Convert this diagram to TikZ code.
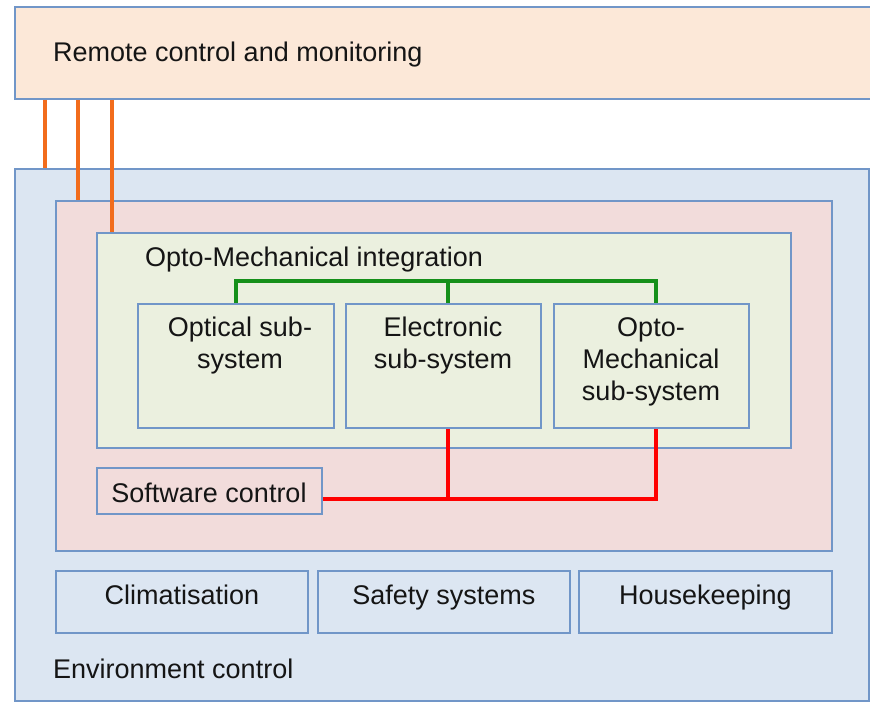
\documentclass[tikz,border=0pt]{standalone}
\usepackage{fontspec}
\setmainfont{Liberation Sans}
\usetikzlibrary{shadows}
\definecolor{bordc}{HTML}{7196C8}
\definecolor{peach}{HTML}{FCE8D8}
\definecolor{envblue}{HTML}{DCE6F2}
\definecolor{pinkc}{HTML}{F2DCDB}
\definecolor{greenc}{HTML}{EBF0DF}
\definecolor{orangel}{HTML}{F26C1C}
\definecolor{greenl}{HTML}{15901A}
\definecolor{redl}{HTML}{FF0000}
\definecolor{txtc}{HTML}{151515}
\begin{document}
\begin{tikzpicture}[x=1pt,y=-1pt,
  box/.style={draw=bordc, line width=1.9pt, inner sep=0pt, anchor=north west,
    drop shadow={shadow xshift=1pt, shadow yshift=-1.5pt, opacity=0.25, fill=black!60}},
  lbl/.style={inner sep=0pt, text=txtc, font=\fontsize{27}{32}\selectfont},
  mlbl/.style={lbl, align=center, anchor=north},
  oline/.style={draw=orangel, line width=3.4pt},
  gline/.style={draw=greenl, line width=3.2pt},
  rline/.style={draw=redl, line width=3.2pt}]
\useasboundingbox (0,0) rectangle (870,702);
% containers
\node[box, fill=peach, minimum width=856pt, minimum height=92pt] (remote) at (14,6) {};
\node[box, fill=envblue, minimum width=854pt, minimum height=532pt] (env) at (14,168) {};
\node[box, fill=pinkc, minimum width=776pt, minimum height=350pt] (pink) at (55,200) {};
\node[box, fill=greenc, minimum width=694pt, minimum height=215pt] (integ) at (96,232) {};
% sub-systems
\node[box, fill=greenc, minimum width=196pt, minimum height=124pt] (optical) at (137,303) {};
\node[box, fill=greenc, minimum width=195pt, minimum height=124pt] (elec) at (345,303) {};
\node[box, fill=greenc, minimum width=195pt, minimum height=124pt] (optomech) at (553,303) {};
\node[box, fill=pinkc, minimum width=225pt, minimum height=46pt] (soft) at (96,467) {};
% environment sub-boxes
\node[box, fill=envblue, minimum width=252pt, minimum height=62pt] (clim) at (55,570) {};
\node[box, fill=envblue, minimum width=252pt, minimum height=62pt] (safe) at (317,570) {};
\node[box, fill=envblue, minimum width=253pt, minimum height=62pt] (house) at (578,570) {};
% labels
\node[lbl, anchor=base west] at (53,61) {Remote control and monitoring};
\node[lbl, anchor=base west] at (145,266) {Opto-Mechanical integration};
\node[mlbl] at (240,317) {Optical sub-\\system};
\node[mlbl] at (443,317) {Electronic\\sub-system};
\node[mlbl] at (651,317) {Opto-\\Mechanical\\sub-system};
\node[lbl, anchor=base] at (209,502) {Software control};
\node[lbl, anchor=base] at (clim.center |- 0,604) {Climatisation};
\node[lbl, anchor=base] at (safe.center |- 0,604) {Safety systems};
\node[lbl, anchor=base] at (house.center |- 0,604) {Housekeeping};
\node[lbl, anchor=base west] at (53,678) {Environment control};
% orange links
\draw[oline] ([xshift=31pt]remote.south west) -- ([xshift=31pt]env.north west);
\draw[oline] ([xshift=64pt]remote.south west) -- ([xshift=23pt]pink.north west);
\draw[oline] ([xshift=98pt]remote.south west) -- ([xshift=16pt]integ.north west);
% green links
\draw[gline] (optical.north) -- ++(0,-22) -| ([xshift=4.5pt]optomech.north);
\draw[gline] ([xshift=4.5pt]elec.north) -- ++(0,-22);
% red links
\draw[rline] ([yshift=-8pt]soft.east) -| ([xshift=4.5pt]optomech.south);
\draw[rline] ([xshift=4.5pt]elec.south) |- ([yshift=-8pt]soft.east);
\end{tikzpicture}
\end{document}
